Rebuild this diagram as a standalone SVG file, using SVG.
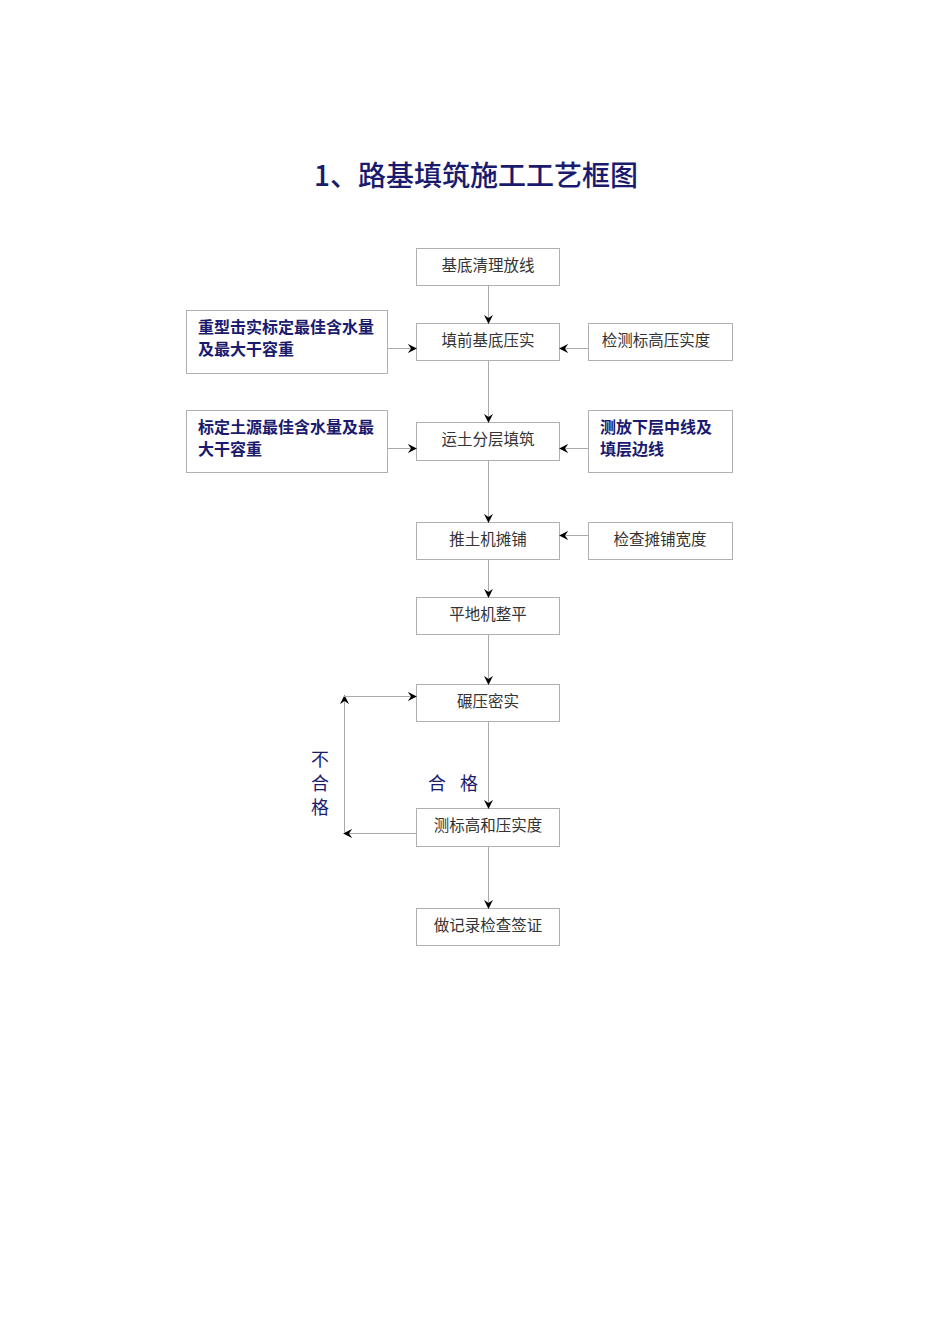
<svg xmlns="http://www.w3.org/2000/svg" width="950" height="1344" viewBox="0 0 950 1344">
<defs>
<marker id="ah" viewBox="0 0 10 10" refX="9" refY="5" markerWidth="9" markerHeight="9" markerUnits="userSpaceOnUse" orient="auto">
<path d="M0,0 L10,5 L0,10 L3.5,5 z" fill="#000"/>
</marker>
<style>
.box{fill:#fff;stroke:#b0b0b0;stroke-width:1}
.t{font-family:"Noto Sans CJK SC","Liberation Sans",sans-serif;font-size:15.5px;fill:#333;text-anchor:middle}
.n{font-family:"Noto Sans CJK SC","Liberation Sans",sans-serif;font-size:16px;font-weight:600;fill:#1a1a6e}
.lab{font-family:"Noto Sans CJK SC","Liberation Sans",sans-serif;font-size:18px;fill:#1a1a6e;text-anchor:middle}
.c{fill:none;stroke:#aaaaaa;stroke-width:1;marker-end:url(#ah)}
</style>
</defs>
<rect width="950" height="1344" fill="#fff"/>
<text x="476" y="186" font-family="Noto Sans CJK SC,Liberation Sans,sans-serif" font-size="28" font-weight="500" fill="#1a1a6e" text-anchor="middle">1、路基填筑施工工艺框图</text>

<g id="n1"><rect class="box" x="416.5" y="248.5" width="143" height="37"/><text class="t" x="488" y="271">基底清理放线</text></g>
<g id="n2"><rect class="box" x="416.5" y="323.5" width="143" height="37"/><text class="t" x="488" y="346">填前基底压实</text></g>
<g id="l1"><rect class="box" x="186.5" y="310.5" width="201" height="63"/><text class="n" x="198" y="333">重型击实标定最佳含水量</text><text class="n" x="198" y="355">及最大干容重</text></g>
<g id="r1"><rect class="box" x="588.5" y="323.5" width="144" height="37"/><text class="t" x="656" y="346">检测标高压实度</text></g>
<g id="n3"><rect class="box" x="416.5" y="422.5" width="143" height="38"/><text class="t" x="488" y="445">运土分层填筑</text></g>
<g id="l2"><rect class="box" x="186.5" y="410.5" width="201" height="62"/><text class="n" x="198" y="433">标定土源最佳含水量及最</text><text class="n" x="198" y="455">大干容重</text></g>
<g id="r2"><rect class="box" x="588.5" y="410.5" width="144" height="62"/><text class="n" x="600" y="433">测放下层中线及</text><text class="n" x="600" y="455">填层边线</text></g>
<g id="n4"><rect class="box" x="416.5" y="522.5" width="143" height="37"/><text class="t" x="488" y="545">推土机摊铺</text></g>
<g id="r3"><rect class="box" x="588.5" y="522.5" width="144" height="37"/><text class="t" x="660" y="545">检查摊铺宽度</text></g>
<g id="n5"><rect class="box" x="416.5" y="597.5" width="143" height="37"/><text class="t" x="488" y="620">平地机整平</text></g>
<g id="n6"><rect class="box" x="416.5" y="684.5" width="143" height="37"/><text class="t" x="488" y="707">碾压密实</text></g>
<g id="n7"><rect class="box" x="416.5" y="808.5" width="143" height="38"/><text class="t" x="488" y="831">测标高和压实度</text></g>
<g id="n8"><rect class="box" x="416.5" y="908.5" width="143" height="37"/><text class="t" x="488" y="931">做记录检查签证</text></g>

<g id="connectors">
<line class="c" x1="488.5" y1="286" x2="488.5" y2="323"/>
<line class="c" x1="488.5" y1="361" x2="488.5" y2="422"/>
<line class="c" x1="488.5" y1="461" x2="488.5" y2="522"/>
<line class="c" x1="488.5" y1="560" x2="488.5" y2="597"/>
<line class="c" x1="488.5" y1="635" x2="488.5" y2="684"/>
<line class="c" x1="488.5" y1="722" x2="488.5" y2="808"/>
<line class="c" x1="488.5" y1="847" x2="488.5" y2="908"/>
<line class="c" x1="388" y1="348.5" x2="416" y2="348.5"/>
<line class="c" x1="388" y1="448.5" x2="416" y2="448.5"/>
<line class="c" x1="588" y1="348.5" x2="560" y2="348.5"/>
<line class="c" x1="588" y1="448.5" x2="560" y2="448.5"/>
<line class="c" x1="588" y1="535.5" x2="560" y2="535.5"/>
<line class="c" x1="416" y1="833.5" x2="344" y2="833.5"/>
<line class="c" x1="344.5" y1="833" x2="344.5" y2="696"/>
<line class="c" x1="344" y1="696.5" x2="416" y2="696.5"/>
</g>
<g id="labels">
<text class="lab" x="320" y="766">不</text>
<text class="lab" x="320" y="790">合</text>
<text class="lab" x="320" y="814">格</text>
<text class="lab" x="437" y="790">合</text>
<text class="lab" x="469" y="790">格</text>
</g>
</svg>
